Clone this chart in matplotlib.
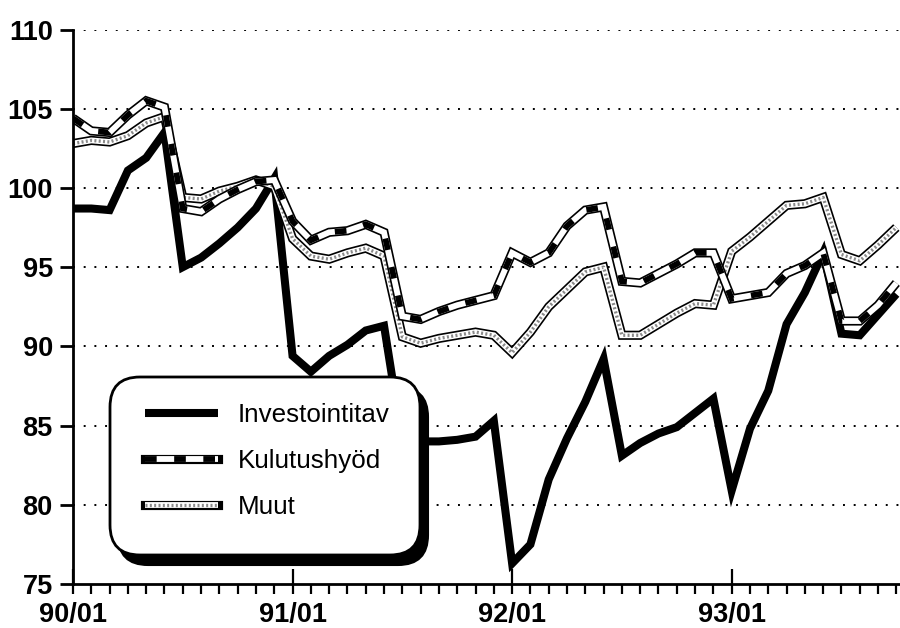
import matplotlib
matplotlib.use("Agg")
import matplotlib.pyplot as plt
from matplotlib.lines import Line2D
from matplotlib.patches import FancyBboxPatch
from matplotlib.transforms import IdentityTransform

plt.rcParams['font.family'] = ['Liberation Sans', 'DejaVu Sans']

# ---- data (monthly index 1990/01 .. 1993/10) ----
months = list(range(46))
tick_labels = ['90/01', '91/01', '92/01', '93/01']
tick_pos = [0, 12, 24, 36]

investointitav = [98.7, 98.7, 98.6, 101.1, 101.9, 103.5, 95.0, 95.6, 96.5, 97.5, 98.7, 100.6,
                  89.4, 88.4, 89.4, 90.1, 91.0, 91.3, 84.0, 84.0, 84.0, 84.1, 84.3, 85.3,
                  76.3, 77.5, 81.6, 84.2, 86.5, 89.2, 83.1, 83.9, 84.5, 84.9, 85.8, 86.7,
                  80.9, 84.8, 87.2, 91.4, 93.4, 95.9, 90.8, 90.7, 92.0, 93.3]

kulutushyod = [104.4, 103.6, 103.5, 104.6, 105.5, 105.1, 98.7, 98.5, 99.3, 99.9, 100.4, 100.5,
               97.9, 96.7, 97.2, 97.3, 97.7, 97.2, 91.9, 91.7, 92.2, 92.6, 92.9, 93.2,
               95.9, 95.3, 95.9, 97.6, 98.6, 98.8, 94.1, 94.0, 94.6, 95.2, 95.9, 95.9,
               93.0, 93.2, 93.4, 94.6, 95.1, 95.9, 91.6, 91.6, 92.6, 94.0]

muut = [102.8, 103.0, 102.9, 103.3, 104.1, 104.5, 99.4, 99.3, 99.8, 100.1, 100.5, 100.1,
        96.8, 95.7, 95.5, 95.9, 96.2, 95.7, 90.6, 90.2, 90.5, 90.7, 90.9, 90.7,
        89.6, 90.9, 92.5, 93.6, 94.7, 95.0, 90.7, 90.7, 91.4, 92.1, 92.7, 92.6,
        96.0, 96.9, 97.9, 98.9, 99.0, 99.4, 95.8, 95.4, 96.4, 97.5]

series_names = ['Investointitav', 'Kulutushyöd', 'Muut']
yticks = [75, 80, 85, 90, 95, 100, 105, 110]

fig = plt.figure(figsize=(9, 6.28), dpi=100)
ax = fig.add_axes([73/900, 44/628, (900-73)/900, (598.5-44)/628])

# grid
for yv in yticks[1:]:
    ax.axhline(yv, color='black', lw=1.4, linestyle=(0, (1, 4.5)), zorder=1)

# Investointitav
ax.plot(months, investointitav, color='black', lw=5.8, solid_joinstyle='miter',
        solid_capstyle='butt', zorder=3)

# Kulutushyöd: outlined white with black dashes
k_out = dict(color='black', lw=6.6, solid_joinstyle='miter', solid_capstyle='butt')
k_in = dict(color='white', lw=4.2, solid_joinstyle='miter', solid_capstyle='butt')
k_dash = dict(color='black', lw=4.2, linestyle=(0, (2.0, 3.0)), dash_capstyle='butt',
              dash_joinstyle='miter')
# Muut: outlined white with grey dots
m_out = dict(color='black', lw=6.6, solid_joinstyle='miter', solid_capstyle='butt')
m_in = dict(color='white', lw=4.2, solid_joinstyle='miter', solid_capstyle='butt')
m_dot = dict(color='#8a8a8a', lw=2.4, linestyle=(0, (0.6, 0.7)), dash_capstyle='butt')

ax.plot(months, muut, zorder=4, **m_out)
ax.plot(months, muut, zorder=4, **m_in)
ax.plot(months, muut, zorder=4, **m_dot)
ax.plot(months, kulutushyod, zorder=4, **k_out)
ax.plot(months, kulutushyod, zorder=4, **k_in)
ax.plot(months, kulutushyod, zorder=4, **k_dash)

ax.set_xlim(0, 45.2)
ax.set_ylim(75, 110)
for s in ['top', 'right']:
    ax.spines[s].set_visible(False)
for s in ['left', 'bottom']:
    ax.spines[s].set_linewidth(2.0)
    ax.spines[s].set_zorder(6)

ax.set_yticks(yticks)
ax.set_yticklabels([str(v) for v in yticks], fontweight='bold')
ax.tick_params(axis='y', direction='out', length=9.5, width=2.0, pad=5, labelsize=19.5)

ax.set_xticks(tick_pos)
ax.set_xticklabels(tick_labels, fontweight='bold')
ax.set_xticks(months, minor=True)
ax.xaxis.remove_overlapping_locs = False
ax.tick_params(axis='x', which='major', direction='in', length=11, width=1.6, pad=13, labelsize=19.5)
ax.tick_params(axis='x', which='minor', direction='out', length=7, width=1.6)

# legend box with shadow (pixel coordinates)
ident = IdentityTransform()
bx0, by0, bw, bh = 110, 628-555, 310, 178
shadow = FancyBboxPatch((bx0+8, by0-10), bw, bh, boxstyle='round,pad=0,rounding_size=30',
                        transform=ident, facecolor='black', edgecolor='black', lw=1.5,
                        zorder=7, clip_on=False)
box = FancyBboxPatch((bx0, by0), bw, bh, boxstyle='round,pad=0,rounding_size=30',
                     transform=ident, facecolor='white', edgecolor='black', lw=2.0,
                     zorder=7.5, clip_on=False)
ax.add_artist(shadow)
ax.add_artist(box)

h_inv = Line2D([], [], color='black', lw=5.8, solid_capstyle='butt')
h_kul = (Line2D([], [], solid_capstyle='projecting', **{k: v for k, v in k_out.items() if k != 'solid_capstyle'}),
         Line2D([], [], **k_in), Line2D([], [], **k_dash))
h_muu = (Line2D([], [], solid_capstyle='projecting', **{k: v for k, v in m_out.items() if k != 'solid_capstyle'}),
         Line2D([], [], **m_in), Line2D([], [], **m_dot))
leg = ax.legend([h_inv, h_kul, h_muu], series_names, loc='upper left',
                bbox_to_anchor=(145/900, 225/628), bbox_transform=fig.transFigure,
                frameon=False, fontsize=18.7, handlelength=2.8, handletextpad=0.77,
                labelspacing=0.85, borderpad=0, borderaxespad=0)
leg.set_zorder(8)

fig.savefig('out.png', dpi=100)
